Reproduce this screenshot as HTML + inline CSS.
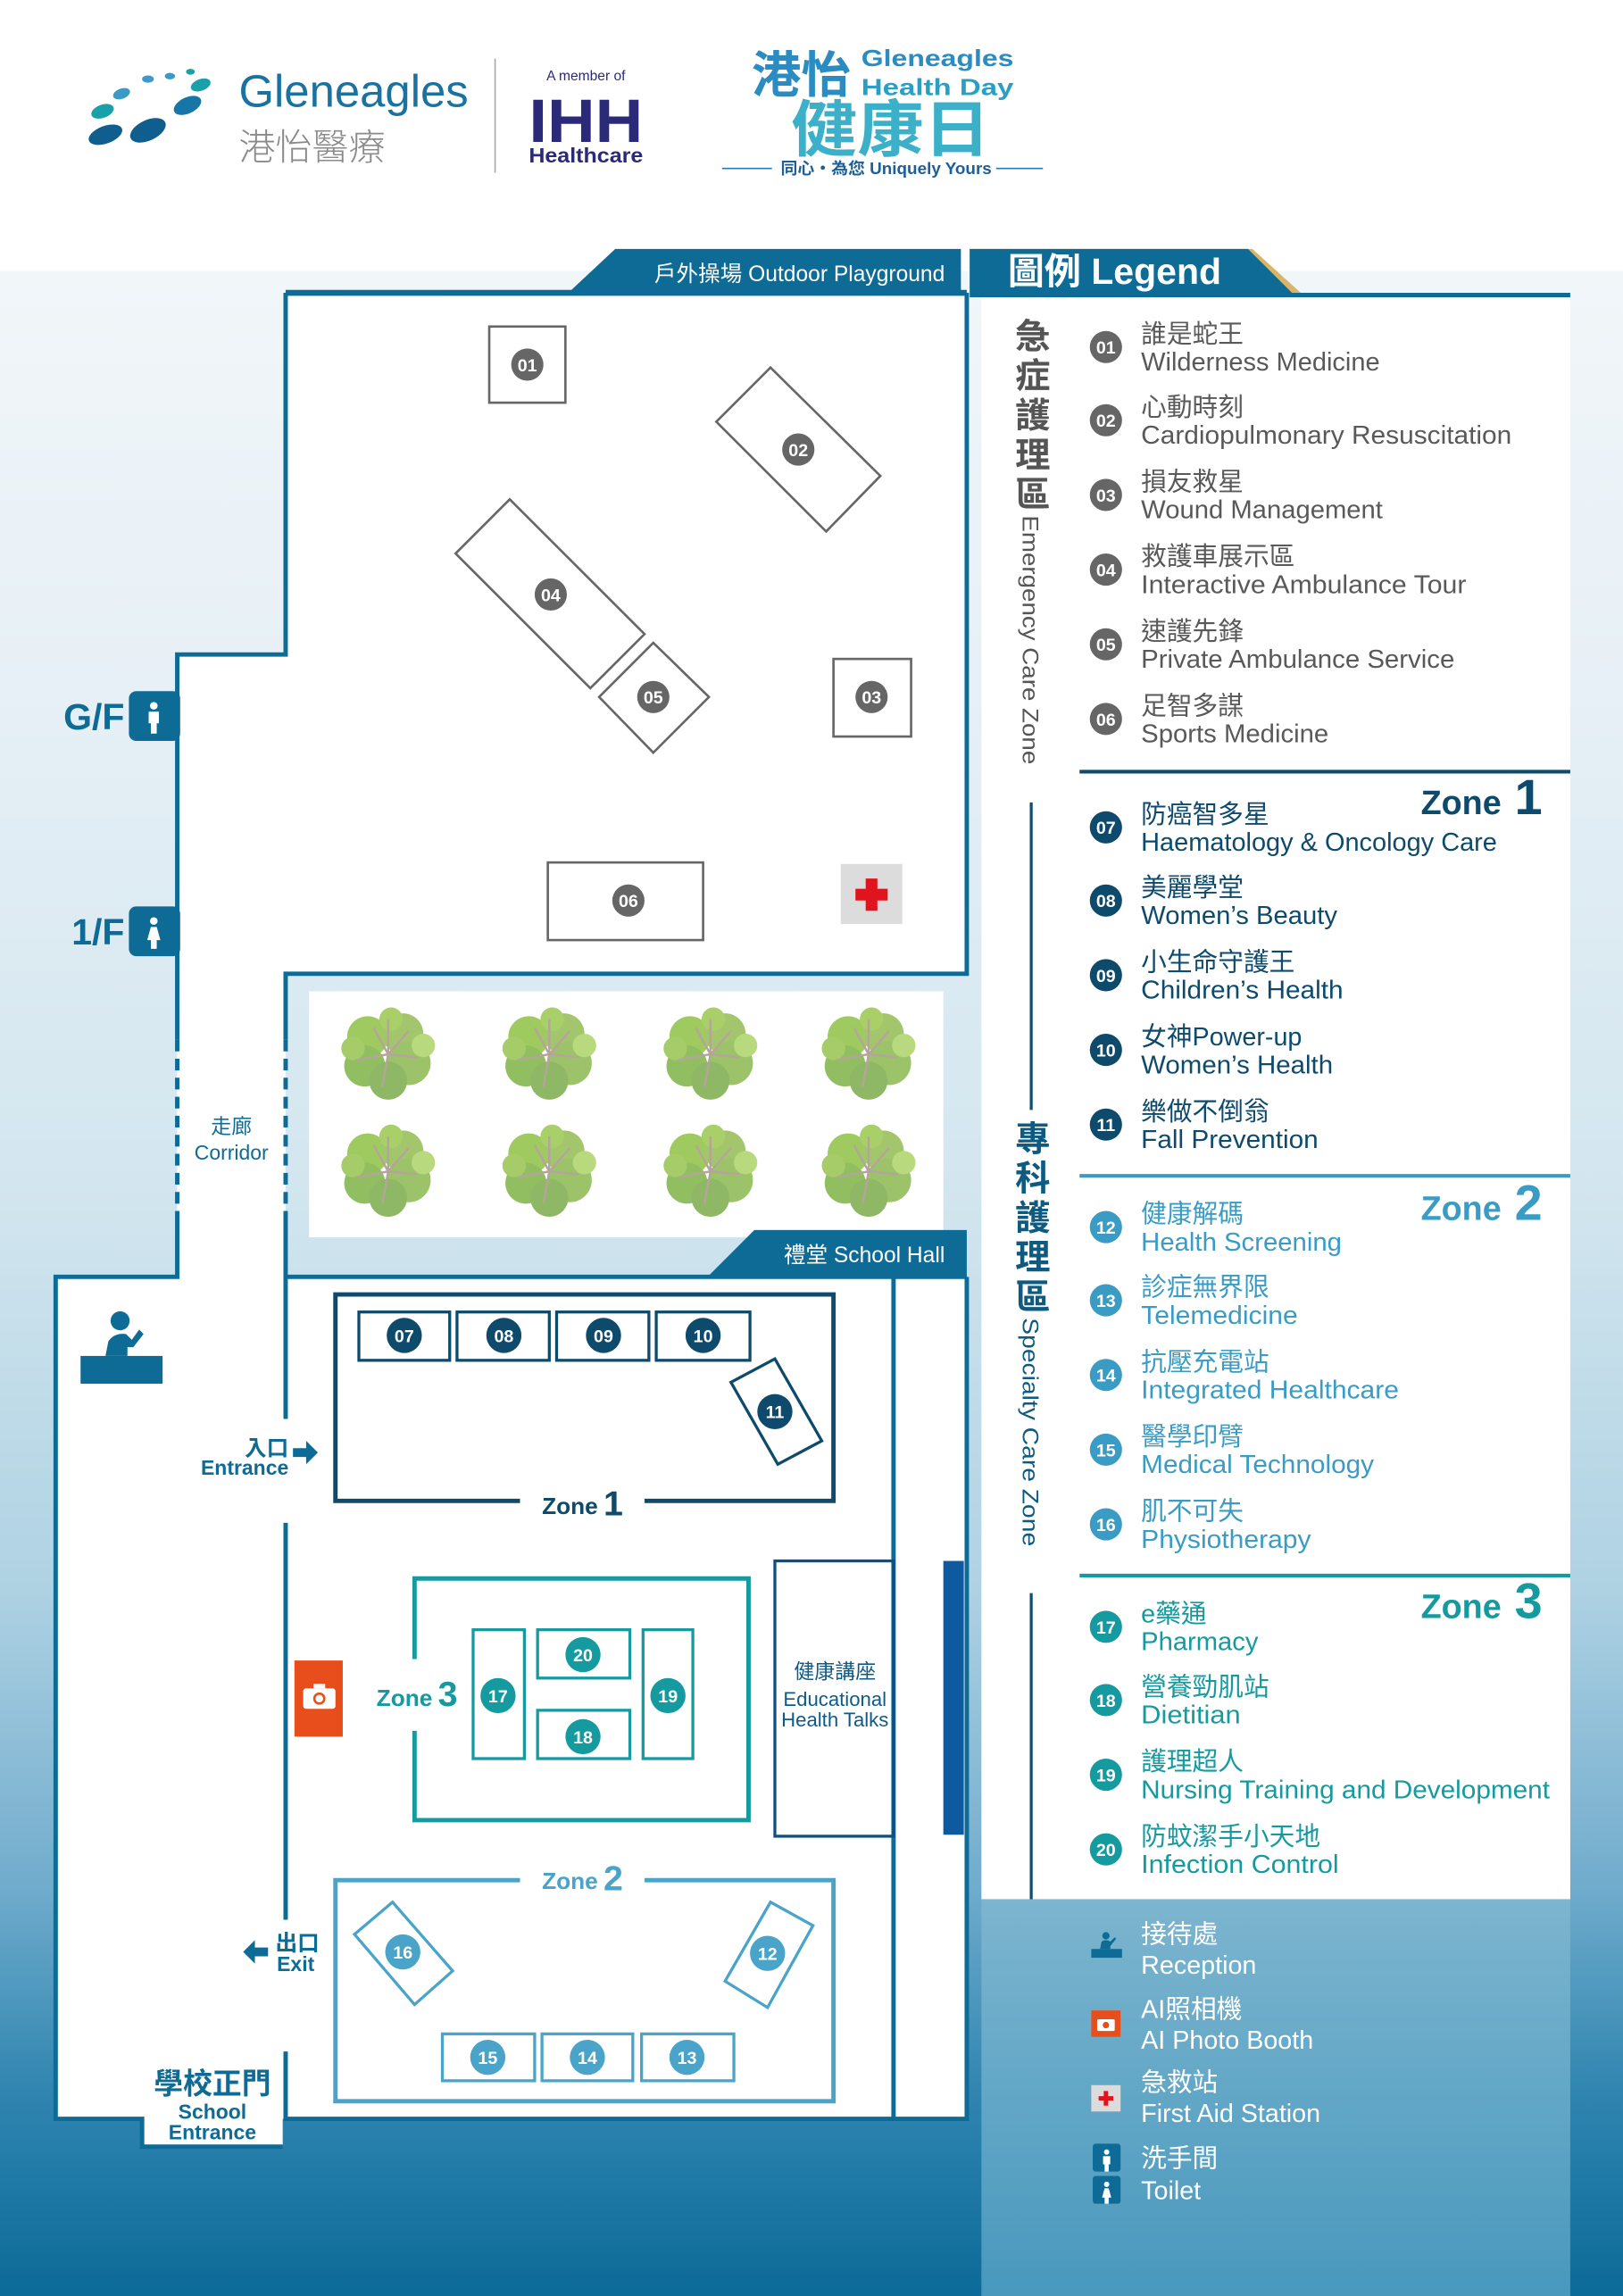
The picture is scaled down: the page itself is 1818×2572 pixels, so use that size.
<!DOCTYPE html>
<html><head><meta charset="utf-8">
<style>
html,body{margin:0;padding:0;background:#fff;}
svg{display:block;}
text{font-family:"Liberation Sans","Noto Sans CJK TC",sans-serif;}
.cj{font-family:"Noto Sans CJK TC","WenQuanYi Zen Hei",sans-serif;}
</style></head>
<body>
<svg width="1818" height="2572" viewBox="0 0 1108 1568" preserveAspectRatio="none" xmlns="http://www.w3.org/2000/svg">
<defs>
<linearGradient id="bg" x1="0" y1="0" x2="0" y2="1">
<stop offset="0" stop-color="#f1f6f9"/>
<stop offset="0.2" stop-color="#e7f0f6"/>
<stop offset="0.45" stop-color="#d3e6ef"/>
<stop offset="0.65" stop-color="#afd2e3"/>
<stop offset="0.8" stop-color="#6fabcc"/>
<stop offset="0.9" stop-color="#2f85b0"/>
<stop offset="1" stop-color="#0c6a98"/>
</linearGradient>
<linearGradient id="lg" x1="0" y1="0" x2="0" y2="1">
<stop offset="0" stop-color="#7cb5cf"/>
<stop offset="1" stop-color="#4898bd"/>
</linearGradient>
<g id="tree">
<circle cx="-14" cy="-12" r="14" fill="#9fca5f"/>
<circle cx="10" cy="-14" r="14" fill="#a3c66c"/>
<circle cx="-16" cy="8" r="14" fill="#92be62"/>
<circle cx="14" cy="6" r="15" fill="#9cc369"/>
<circle cx="0" cy="18" r="13" fill="#8fb866"/>
<circle cx="2" cy="-24" r="8" fill="#a9d068"/>
<circle cx="24" cy="-6" r="8" fill="#b8d97d"/>
<circle cx="-24" cy="-4" r="8" fill="#a6cc6a"/>
<path d="M0 0 L-10 -18 M0 0 L14 -16 M0 0 L-22 4 M0 0 L20 2 M0 0 L-4 22 M0 0 L0 -24" stroke="#b5a49a" stroke-width="1.5" fill="none"/>
</g>
<g id="wc"><circle cx="0" cy="-9" r="2.6" fill="#fff"/><path d="M-3.5 -5 h7 v8 h-1.5 v7 h-4 v-7 h-1.5z" fill="#fff"/></g>
<g id="wcf"><circle cx="0" cy="-9" r="2.6" fill="#fff"/><path d="M-2 -5 h4 l2.5 9 h-2.5 v6 h-4 v-6 h-2.5z" fill="#fff"/></g>
</defs>

<rect x="0" y="0" width="1108" height="1568" fill="#fff"/>
<rect x="0" y="185" width="1108" height="1383" fill="url(#bg)"/>

<!-- Header -->
<g fill="#1f7fa6">
<ellipse cx="72" cy="92" rx="12" ry="6" transform="rotate(-20 72 92)" fill="#0f5e8e"/>
<ellipse cx="101" cy="89" rx="13" ry="7" transform="rotate(-25 101 89)" fill="#0f5e8e"/>
<ellipse cx="70" cy="76" rx="8" ry="4.5" transform="rotate(-20 70 76)" fill="#1aa0aa"/>
<ellipse cx="128" cy="72" rx="10" ry="5.5" transform="rotate(-25 128 72)" fill="#1776a8"/>
<ellipse cx="83" cy="64" rx="6" ry="3.5" transform="rotate(-20 83 64)" fill="#3a9ac8"/>
<ellipse cx="137" cy="58" rx="7" ry="4" transform="rotate(-20 137 58)" fill="#1aa0aa"/>
<ellipse cx="101" cy="54" rx="4" ry="2.5" fill="#3a9ac8"/>
<ellipse cx="116" cy="52" rx="3.5" ry="2.2" fill="#3a9ac8"/>
<ellipse cx="130" cy="49" rx="3" ry="2" fill="#1aa0aa"/>
</g>
<text x="163" y="73" font-size="31" fill="#1a72a0" font-family="Liberation Serif,serif">Gleneagles</text>
<text x="163" y="109" font-size="25" fill="#8a8a8a" class="cj" font-weight="300">港怡醫療</text>
<line x1="338" y1="40" x2="338" y2="118" stroke="#aaa" stroke-width="1"/>
<text x="400" y="55" font-size="9.5" fill="#2b2a78" text-anchor="middle">A member of</text>
<text x="400" y="97" font-size="42" font-weight="bold" fill="#2b2a78" text-anchor="middle" textLength="78" lengthAdjust="spacingAndGlyphs">IHH</text>
<text x="400" y="111" font-size="14" font-weight="bold" fill="#2b2a78" text-anchor="middle" textLength="78" lengthAdjust="spacingAndGlyphs">Healthcare</text>
<text x="513" y="63" font-size="34" font-weight="bold" fill="#2a8cc0" class="cj">港怡</text>
<text x="588" y="45" font-size="16" font-weight="bold" fill="#2a8cc0" textLength="104" lengthAdjust="spacingAndGlyphs">Gleneagles</text>
<text x="588" y="65" font-size="16" font-weight="bold" fill="#2a9fc4" textLength="104" lengthAdjust="spacingAndGlyphs">Health Day</text>
<text x="540" y="103" font-size="42" font-weight="bold" fill="#3bb0c8" class="cj" textLength="136" lengthAdjust="spacingAndGlyphs">健康日</text>
<line x1="493" y1="115" x2="527" y2="115" stroke="#1c7fb0" stroke-width="1"/>
<line x1="680" y1="115" x2="712" y2="115" stroke="#1c7fb0" stroke-width="1"/>
<text x="533" y="119" font-size="11" font-weight="bold" fill="#1c5f9a" textLength="144" lengthAdjust="spacingAndGlyphs">同心・為您 Uniquely Yours</text>

<!-- Outdoor playground tab -->
<polygon points="388,200 420,170 656,170 656,200" fill="#0e6b96"/>
<text x="645" y="192" font-size="15" fill="#fff" text-anchor="end">戶外操場 Outdoor Playground</text>
<!-- Legend tab -->
<polygon points="662,170 855,170 888,200 662,200" fill="#d9b56a"/>
<polygon points="662,170 852,170 882,200 662,200" fill="#0e6b96"/>
<text x="688" y="194" font-size="25" font-weight="bold" fill="#fff">圖例 Legend</text>

<!-- floor white areas -->
<path d="M195 200 H660 V665 H195 V872 H121 V447 H195 Z" fill="#fff"/>
<rect x="121" y="665" width="74" height="210" fill="#fff"/>
<rect x="38" y="872" width="622" height="575" fill="#fff"/>
<rect x="97" y="1440" width="96" height="26" fill="#fff"/>
<rect x="211" y="677" width="433" height="168" fill="#fff"/>

<!-- walls -->
<g stroke="#0e6b96" stroke-width="3" fill="none">
<path d="M660 200 V665 H195 V710"/>
<path d="M195 200 V447 H121 V710"/>
<path d="M195 830 V872 H660"/>
<path d="M121 830 V872 H38 V1447 H97 V1466 H193"/>
<path d="M195 872 V969 M195 1040 V1311 M195 1401 V1447 H660 V872"/>
<path d="M610 872 V1447"/>
<path d="M121 710 V830 M195 710 V830" stroke-dasharray="8 5"/>
</g>
<line x1="195" y1="200" x2="660" y2="200" stroke="#0e6b96" stroke-width="4"/>

<!-- trees -->
<use href="#tree" x="265" y="720"/><use href="#tree" x="375" y="720"/><use href="#tree" x="485" y="720"/><use href="#tree" x="593" y="720"/>
<use href="#tree" x="265" y="800"/><use href="#tree" x="375" y="800"/><use href="#tree" x="485" y="800"/><use href="#tree" x="593" y="800"/>

<text x="158" y="774" font-size="14" fill="#0e6b96" text-anchor="middle">走廊</text>
<text x="158" y="792" font-size="14" fill="#0e6b96" text-anchor="middle">Corridor</text>

<!-- G/F 1/F -->
<text x="85" y="498" font-size="25" font-weight="bold" fill="#0e6b96" text-anchor="end">G/F</text>
<rect x="88" y="472" width="35" height="34" rx="5" fill="#0e6b96"/>
<use href="#wc" x="105" y="491"/>
<text x="85" y="645" font-size="25" font-weight="bold" fill="#0e6b96" text-anchor="end">1/F</text>
<rect x="88" y="619" width="35" height="34" rx="5" fill="#0e6b96"/>
<use href="#wcf" x="105" y="638"/>

<!-- outdoor booths -->
<g stroke="#666" stroke-width="1.6" fill="none">
<rect x="334" y="223" width="52" height="52"/>
<polygon points="489,288 526,251 601,325 564,363"/>
<polygon points="311,378 348,341 440,433 403,470"/>
<polygon points="409,476 446,439 484,476 446,514"/>
<rect x="569" y="450" width="53" height="53"/>
<rect x="374" y="589" width="106" height="53"/>
</g>
<g font-size="12" font-weight="bold" fill="#fff" text-anchor="middle">
<circle cx="360" cy="249" r="11" fill="#666"/><text x="360" y="253.5">01</text>
<circle cx="545" cy="307" r="11" fill="#666"/><text x="545" y="311.5">02</text>
<circle cx="376" cy="406" r="11" fill="#666"/><text x="376" y="410.5">04</text>
<circle cx="446" cy="476" r="11" fill="#666"/><text x="446" y="480.5">05</text>
<circle cx="595" cy="476" r="11" fill="#666"/><text x="595" y="480.5">03</text>
<circle cx="429" cy="615" r="11" fill="#666"/><text x="429" y="619.5">06</text>
</g>
<rect x="574" y="590" width="42" height="41" fill="#dcdcdc"/>
<path d="M591 600 h8 v7 h7 v8 h-7 v7 h-8 v-7 h-7 v-8 h7z" fill="#e0141e"/>

<!-- School hall tab -->
<polygon points="483,872 515,840 660,840 660,872" fill="#0e6b96"/>
<text x="645" y="862" font-size="15" fill="#fff" text-anchor="end">禮堂 School Hall</text>

<!-- reception -->
<g fill="#0e6b96">
<circle cx="82" cy="902" r="6.5"/>
<path d="M72 926 L74 916 Q78 910 86 911 L90 915 L95 908 L98 911 L91 920 L87 920 L87 926 Z"/>
<rect x="55" y="926" width="56" height="19"/>
</g>

<!-- Entrance / Exit -->
<text x="197" y="994" font-size="15" font-weight="bold" fill="#0e6b96" text-anchor="end">入口</text>
<text x="197" y="1007" font-size="14" font-weight="bold" fill="#0e6b96" text-anchor="end">Entrance</text>
<path d="M200 989 h9 v-5 l8 8 -8 8 v-5 h-9z" fill="#0e6b96"/>
<path d="M183 1330 h-9 v-5 l-8 8 8 8 v-5 h9z" fill="#0e6b96"/>
<text x="188" y="1332" font-size="15" font-weight="bold" fill="#0e6b96">出口</text>
<text x="189" y="1346" font-size="14" font-weight="bold" fill="#0e6b96">Exit</text>

<!-- School entrance -->
<text x="145" y="1430" font-size="20" font-weight="bold" fill="#0e6b96" text-anchor="middle">學校正門</text>
<text x="145" y="1447" font-size="14" font-weight="bold" fill="#0e6b96" text-anchor="middle">School</text>
<text x="145" y="1461" font-size="14" font-weight="bold" fill="#0e6b96" text-anchor="middle">Entrance</text>

<!-- Zone 1 -->
<path d="M355 1025 H229 V884 H569 V1025 H440" stroke="#0d4a6b" stroke-width="3" fill="none"/>
<text x="370" y="1034" font-size="16" font-weight="bold" fill="#0d4a6b">Zone</text>
<text x="412" y="1035" font-size="24" font-weight="bold" fill="#0d4a6b">1</text>
<g stroke="#0d4a6b" stroke-width="2" fill="none">
<rect x="245" y="896" width="62" height="33"/><rect x="312" y="896" width="63" height="33"/>
<rect x="380" y="896" width="63" height="33"/><rect x="448" y="896" width="64" height="33"/>
<polygon points="499,944 529,928 561,984 531,1000"/>
</g>
<g font-size="12" font-weight="bold" fill="#fff" text-anchor="middle">
<circle cx="276" cy="912" r="12" fill="#0d4a6b"/><text x="276" y="916.5">07</text>
<circle cx="344" cy="912" r="12" fill="#0d4a6b"/><text x="344" y="916.5">08</text>
<circle cx="412" cy="912" r="12" fill="#0d4a6b"/><text x="412" y="916.5">09</text>
<circle cx="480" cy="912" r="12" fill="#0d4a6b"/><text x="480" y="916.5">10</text>
<circle cx="529" cy="964" r="12" fill="#0d4a6b"/><text x="529" y="968.5">11</text>
</g>

<!-- Zone 3 -->
<path d="M283 1133 V1078 H511 V1243 H283 V1182" stroke="#159aa0" stroke-width="3" fill="none"/>
<text x="257" y="1165" font-size="16" font-weight="bold" fill="#159aa0">Zone</text>
<text x="299" y="1165" font-size="24" font-weight="bold" fill="#159aa0">3</text>
<g stroke="#159aa0" stroke-width="2" fill="none">
<rect x="323" y="1113" width="35" height="88"/><rect x="367" y="1113" width="63" height="33"/>
<rect x="367" y="1168" width="63" height="33"/><rect x="439" y="1113" width="34" height="88"/>
</g>
<g font-size="12" font-weight="bold" fill="#fff" text-anchor="middle">
<circle cx="340" cy="1158" r="12" fill="#159aa0"/><text x="340" y="1162.5">17</text>
<circle cx="398" cy="1130" r="12" fill="#159aa0"/><text x="398" y="1134.5">20</text>
<circle cx="398" cy="1186" r="12" fill="#159aa0"/><text x="398" y="1190.5">18</text>
<circle cx="456" cy="1158" r="12" fill="#159aa0"/><text x="456" y="1162.5">19</text>
</g>

<!-- camera -->
<rect x="201" y="1134" width="33" height="52" fill="#e84e1c"/>
<rect x="207" y="1153" width="22" height="14" rx="2" fill="#fff"/>
<rect x="214" y="1150" width="8" height="3" fill="#fff"/>
<circle cx="218" cy="1160" r="4.2" fill="#e84e1c"/><circle cx="218" cy="1160" r="2.6" fill="#fff"/>

<!-- Educational talks -->
<rect x="529" y="1066" width="81" height="188" stroke="#0e4f80" stroke-width="2" fill="none"/>
<text x="570" y="1146" font-size="14" fill="#0e5a88" text-anchor="middle">健康講座</text>
<text x="570" y="1165" font-size="13.5" fill="#0e5a88" text-anchor="middle">Educational</text>
<text x="570" y="1179" font-size="13.5" fill="#0e5a88" text-anchor="middle">Health Talks</text>
<rect x="644" y="1066" width="14" height="187" fill="#0d5aa0"/>

<!-- Zone 2 -->
<path d="M355 1284 H229 V1435 H569 V1284 H440" stroke="#4aa3c9" stroke-width="3" fill="none"/>
<text x="370" y="1290" font-size="16" font-weight="bold" fill="#4aa3c9">Zone</text>
<text x="412" y="1291" font-size="24" font-weight="bold" fill="#4aa3c9">2</text>
<g stroke="#4aa3c9" stroke-width="2" fill="none">
<polygon points="242,1321 268,1299 309,1346 283,1369"/>
<polygon points="495,1353 526,1299 555,1315 524,1371"/>
<rect x="302" y="1389" width="63" height="32"/><rect x="370" y="1389" width="62" height="32"/><rect x="438" y="1389" width="63" height="32"/>
</g>
<g font-size="12" font-weight="bold" fill="#fff" text-anchor="middle">
<circle cx="275" cy="1333" r="12" fill="#4aa3c9"/><text x="275" y="1337.5">16</text>
<circle cx="524" cy="1334" r="12" fill="#4aa3c9"/><text x="524" y="1338.5">12</text>
<circle cx="333" cy="1405" r="12" fill="#4aa3c9"/><text x="333" y="1409.5">15</text>
<circle cx="401" cy="1405" r="12" fill="#4aa3c9"/><text x="401" y="1409.5">14</text>
<circle cx="469" cy="1405" r="12" fill="#4aa3c9"/><text x="469" y="1409.5">13</text>
</g>

<!-- LEGEND PANEL -->
<rect x="670" y="203" width="402" height="1094" fill="#fff"/>
<rect x="670" y="1297" width="402" height="271" fill="url(#lg)"/>
<line x1="662" y1="201.5" x2="1072" y2="201.5" stroke="#0e6b96" stroke-width="3"/>

<g font-size="24" font-weight="bold" fill="#555" text-anchor="middle">
<text x="705" y="238">急</text><text x="705" y="265">症</text><text x="705" y="292">護</text><text x="705" y="319">理</text><text x="705" y="346">區</text>
</g>
<text transform="translate(698 352) rotate(90)" font-size="15" fill="#555" textLength="170" lengthAdjust="spacingAndGlyphs">Emergency Care Zone</text>
<line x1="704" y1="548" x2="704" y2="758" stroke="#0e4f73" stroke-width="2"/>
<g font-size="24" font-weight="bold" fill="#0e5a80" text-anchor="middle">
<text x="705" y="786">專</text><text x="705" y="813">科</text><text x="705" y="840">護</text><text x="705" y="867">理</text><text x="705" y="894">區</text>
</g>
<text transform="translate(698 900) rotate(90)" font-size="15" fill="#0e5a80" textLength="156" lengthAdjust="spacingAndGlyphs">Specialty Care Zone</text>
<line x1="704" y1="1088" x2="704" y2="1297" stroke="#0e4f73" stroke-width="2"/>

<line x1="737" y1="527" x2="1072" y2="527" stroke="#0d4a6b" stroke-width="2.5"/>
<line x1="737" y1="803" x2="1072" y2="803" stroke="#3a9cc4" stroke-width="2.5"/>
<line x1="737" y1="1076" x2="1072" y2="1076" stroke="#159aa0" stroke-width="2.5"/>

<text x="970" y="556" font-size="23" font-weight="bold" fill="#0d4a6b">Zone</text><text x="1034" y="556" font-size="34" font-weight="bold" fill="#0d4a6b">1</text>
<text x="970" y="833" font-size="23" font-weight="bold" fill="#3a9cc4">Zone</text><text x="1034" y="833" font-size="34" font-weight="bold" fill="#3a9cc4">2</text>
<text x="970" y="1105" font-size="23" font-weight="bold" fill="#159aa0">Zone</text><text x="1034" y="1105" font-size="34" font-weight="bold" fill="#159aa0">3</text>

<!-- legend items -->
<g font-size="12" font-weight="bold" text-anchor="middle" fill="#fff">
<circle cx="755" cy="237" r="11" fill="#666"/><text x="755" y="241.5">01</text>
<circle cx="755" cy="287" r="11" fill="#666"/><text x="755" y="291.5">02</text>
<circle cx="755" cy="338" r="11" fill="#666"/><text x="755" y="342.5">03</text>
<circle cx="755" cy="389" r="11" fill="#666"/><text x="755" y="393.5">04</text>
<circle cx="755" cy="440" r="11" fill="#666"/><text x="755" y="444.5">05</text>
<circle cx="755" cy="491" r="11" fill="#666"/><text x="755" y="495.5">06</text>
<circle cx="755" cy="565" r="11" fill="#0d4a6b"/><text x="755" y="569.5">07</text>
<circle cx="755" cy="615" r="11" fill="#0d4a6b"/><text x="755" y="619.5">08</text>
<circle cx="755" cy="666" r="11" fill="#0d4a6b"/><text x="755" y="670.5">09</text>
<circle cx="755" cy="717" r="11" fill="#0d4a6b"/><text x="755" y="721.5">10</text>
<circle cx="755" cy="768" r="11" fill="#0d4a6b"/><text x="755" y="772.5">11</text>
<circle cx="755" cy="838" r="11" fill="#3a9cc4"/><text x="755" y="842.5">12</text>
<circle cx="755" cy="888" r="11" fill="#3a9cc4"/><text x="755" y="892.5">13</text>
<circle cx="755" cy="939" r="11" fill="#3a9cc4"/><text x="755" y="943.5">14</text>
<circle cx="755" cy="990" r="11" fill="#3a9cc4"/><text x="755" y="994.5">15</text>
<circle cx="755" cy="1041" r="11" fill="#3a9cc4"/><text x="755" y="1045.5">16</text>
<circle cx="755" cy="1111" r="11" fill="#159aa0"/><text x="755" y="1115.5">17</text>
<circle cx="755" cy="1161" r="11" fill="#159aa0"/><text x="755" y="1165.5">18</text>
<circle cx="755" cy="1212" r="11" fill="#159aa0"/><text x="755" y="1216.5">19</text>
<circle cx="755" cy="1263" r="11" fill="#159aa0"/><text x="755" y="1267.5">20</text>
</g>

<g font-size="17.5" fill="#595959">
<text x="779" y="234">誰是蛇王</text><text x="779" y="253" textLength="163" lengthAdjust="spacingAndGlyphs">Wilderness Medicine</text>
<text x="779" y="284">心動時刻</text><text x="779" y="303" textLength="253" lengthAdjust="spacingAndGlyphs">Cardiopulmonary Resuscitation</text>
<text x="779" y="335">損友救星</text><text x="779" y="354" textLength="165" lengthAdjust="spacingAndGlyphs">Wound Management</text>
<text x="779" y="386">救護車展示區</text><text x="779" y="405" textLength="222" lengthAdjust="spacingAndGlyphs">Interactive Ambulance Tour</text>
<text x="779" y="437">速護先鋒</text><text x="779" y="456" textLength="214" lengthAdjust="spacingAndGlyphs">Private Ambulance Service</text>
<text x="779" y="488">足智多謀</text><text x="779" y="507" textLength="128" lengthAdjust="spacingAndGlyphs">Sports Medicine</text>
</g>
<g font-size="17.5" fill="#0d4a6b">
<text x="779" y="562">防癌智多星</text><text x="779" y="581" textLength="243" lengthAdjust="spacingAndGlyphs">Haematology &amp; Oncology Care</text>
<text x="779" y="612">美麗學堂</text><text x="779" y="631" textLength="134" lengthAdjust="spacingAndGlyphs">Women’s Beauty</text>
<text x="779" y="663">小生命守護王</text><text x="779" y="682" textLength="138" lengthAdjust="spacingAndGlyphs">Children’s Health</text>
<text x="779" y="714">女神Power-up</text><text x="779" y="733" textLength="131" lengthAdjust="spacingAndGlyphs">Women’s Health</text>
<text x="779" y="765">樂做不倒翁</text><text x="779" y="784" textLength="121" lengthAdjust="spacingAndGlyphs">Fall Prevention</text>
</g>
<g font-size="17.5" fill="#3a9cc4">
<text x="779" y="835">健康解碼</text><text x="779" y="854" textLength="137" lengthAdjust="spacingAndGlyphs">Health Screening</text>
<text x="779" y="885">診症無界限</text><text x="779" y="904" textLength="107" lengthAdjust="spacingAndGlyphs">Telemedicine</text>
<text x="779" y="936">抗壓充電站</text><text x="779" y="955" textLength="176" lengthAdjust="spacingAndGlyphs">Integrated Healthcare</text>
<text x="779" y="987">醫學印臂</text><text x="779" y="1006" textLength="159" lengthAdjust="spacingAndGlyphs">Medical Technology</text>
<text x="779" y="1038">肌不可失</text><text x="779" y="1057" textLength="116" lengthAdjust="spacingAndGlyphs">Physiotherapy</text>
</g>
<g font-size="17.5" fill="#159aa0">
<text x="779" y="1108">e藥通</text><text x="779" y="1127" textLength="80" lengthAdjust="spacingAndGlyphs">Pharmacy</text>
<text x="779" y="1158">營養勁肌站</text><text x="779" y="1177" textLength="68" lengthAdjust="spacingAndGlyphs">Dietitian</text>
<text x="779" y="1209">護理超人</text><text x="779" y="1228" textLength="279" lengthAdjust="spacingAndGlyphs">Nursing Training and Development</text>
<text x="779" y="1260">防蚊潔手小天地</text><text x="779" y="1279" textLength="135" lengthAdjust="spacingAndGlyphs">Infection Control</text>
</g>

<!-- lower legend -->
<g fill="#0e6b96">
<circle cx="755" cy="1322" r="2.5"/>
<path d="M751 1331 L752 1326 Q755 1324 758 1326 L761 1323 L762 1324 L758 1329 L758 1331Z"/>
<rect x="745" y="1331" width="21" height="6"/>
</g>
<rect x="745" y="1373" width="20" height="18" fill="#e84e1c"/>
<rect x="749" y="1379" width="12" height="8" rx="1" fill="#fff"/><circle cx="755" cy="1383" r="2.2" fill="#e84e1c"/>
<rect x="745" y="1424" width="20" height="18" fill="#dcdcdc"/>
<path d="M753.5 1428 h3 v3.5 h3.5 v3 h-3.5 v3.5 h-3 v-3.5 h-3.5 v-3 h3.5z" fill="#e0141e"/>
<rect x="746" y="1464" width="19" height="19" rx="2" fill="#0e6b96"/>
<use href="#wc" x="755.5" y="1476" transform="translate(755.5 1476) scale(0.7) translate(-755.5 -1476)"/>
<rect x="746" y="1486" width="19" height="19" rx="2" fill="#0e6b96"/>
<use href="#wcf" x="755.5" y="1498" transform="translate(755.5 1498) scale(0.7) translate(-755.5 -1498)"/>
<g font-size="17.5" fill="#fff">
<text x="779" y="1327">接待處</text><text x="779" y="1348">Reception</text>
<text x="779" y="1378">AI照相機</text><text x="779" y="1399">AI Photo Booth</text>
<text x="779" y="1428">急救站</text><text x="779" y="1449">First Aid Station</text>
<text x="779" y="1480">洗手間</text><text x="779" y="1502">Toilet</text>
</g>
</svg>
</body></html>
